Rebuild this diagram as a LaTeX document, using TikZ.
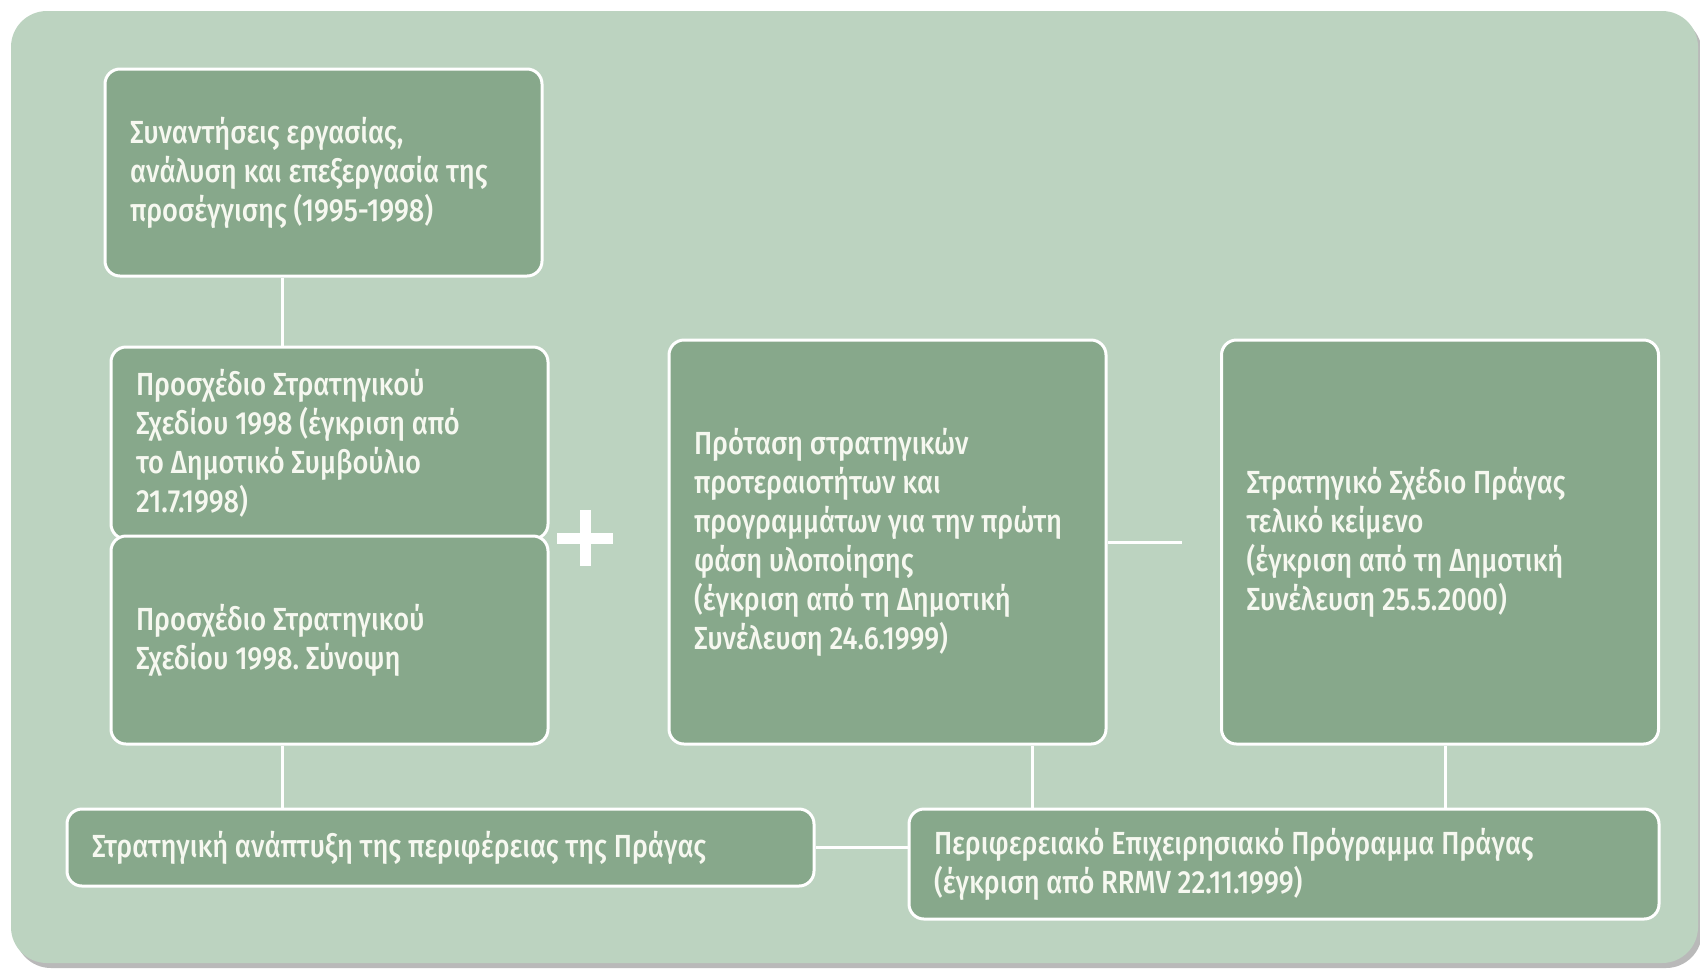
\documentclass[tikz,border=0pt]{standalone}
\usepackage{fontspec}
\setmainfont{Fira Sans}[UprightFont=* Medium,FakeStretch=0.85]
\definecolor{bgsage}{RGB}{188,211,192}
\definecolor{boxsage}{RGB}{135,168,139}
\definecolor{boxtext}{RGB}{246,248,240}

\begin{document}
\begin{tikzpicture}[x=0.5pt,y=-0.5pt,
  box/.style={draw=white, line width=1.5pt, fill=boxsage, rounded corners=7.5pt,
    text=boxtext, align=left, text width=193.5pt, inner xsep=12.5pt, inner ysep=0pt,
    font=\fontsize{16}{19.5}\selectfont,
    execute at begin node={\spaceskip=3.4pt plus 1pt\relax}},
  link/.style={draw=white, line width=1.5pt}]

\useasboundingbox (0,0) rectangle (1700,970);
\fill[gray!55, rounded corners=18pt] (15,17) rectangle (1702,968);
\fill[bgsage, rounded corners=18pt] (11,11) rectangle (1698,963);

\node[box, minimum height=103.5pt] (A) at (323.5,172.5) {Συναντήσεις εργασίας,\\ ανάλυση και επεξεργασία της\\ προσέγγισης (1995-1998)};
\node[box, minimum height=96pt] (B) at (329.5,443) {Προσχέδιο Στρατηγικού\\ Σχεδίου 1998 (έγκριση από\\ το Δημοτικό Συμβούλιο\\ 21.7.1998)};
\node[box, minimum height=104pt] (C) at (329.5,640) {Προσχέδιο Στρατηγικού\\ Σχεδίου 1998.\hskip 3.4pt Σύνοψη};
\node[box, minimum height=202pt] (D) at (887.5,542) {Πρόταση στρατηγικών\\ προτεραιοτήτων και\\ προγραμμάτων για την πρώτη\\ φάση υλοποίησης\\ (έγκριση από τη Δημοτική\\ Συνέλευση 24.6.1999)};
\node[box, minimum height=202pt] (E) at (1440,542) {Στρατηγικό Σχέδιο Πράγας\\ τελικό κείμενο\\ (έγκριση από τη Δημοτική\\ Συνέλευση 25.5.2000)};
\node[box, minimum height=38.5pt, text width=348.5pt] (F) at (440.5,847.5) {Στρατηγική ανάπτυξη της περιφέρειας της Πράγας};
\node[box, minimum height=55pt, text width=350pt] (G) at (1284,864) {Περιφερειακό Επιχειρησιακό Πρόγραμμα Πράγας\\ (έγκριση από RRMV 22.11.1999)};

% vertical links
\coordinate (k1) at (282,0);
\coordinate (k2) at (1032,0);
\coordinate (k3) at (1445,0);
\draw[link] (A.south -| k1) -- (B.north -| k1);
\draw[link] (C.south -| k1) -- (F.north -| k1);
\draw[link] (D.south -| k2) -- (G.north -| k2);
\draw[link] (E.south -| k3) -- (G.north -| k3);

% horizontal links
\coordinate (dash) at (1182,542);
\draw[link] (D.east) -- (dash);
\draw[link] (F.east) -- (F.east -| G.west);

% plus sign
\draw[white, line width=5.5pt] (557,538) -- (613,538) (585,510) -- (585,566);

\end{tikzpicture}
\end{document}
